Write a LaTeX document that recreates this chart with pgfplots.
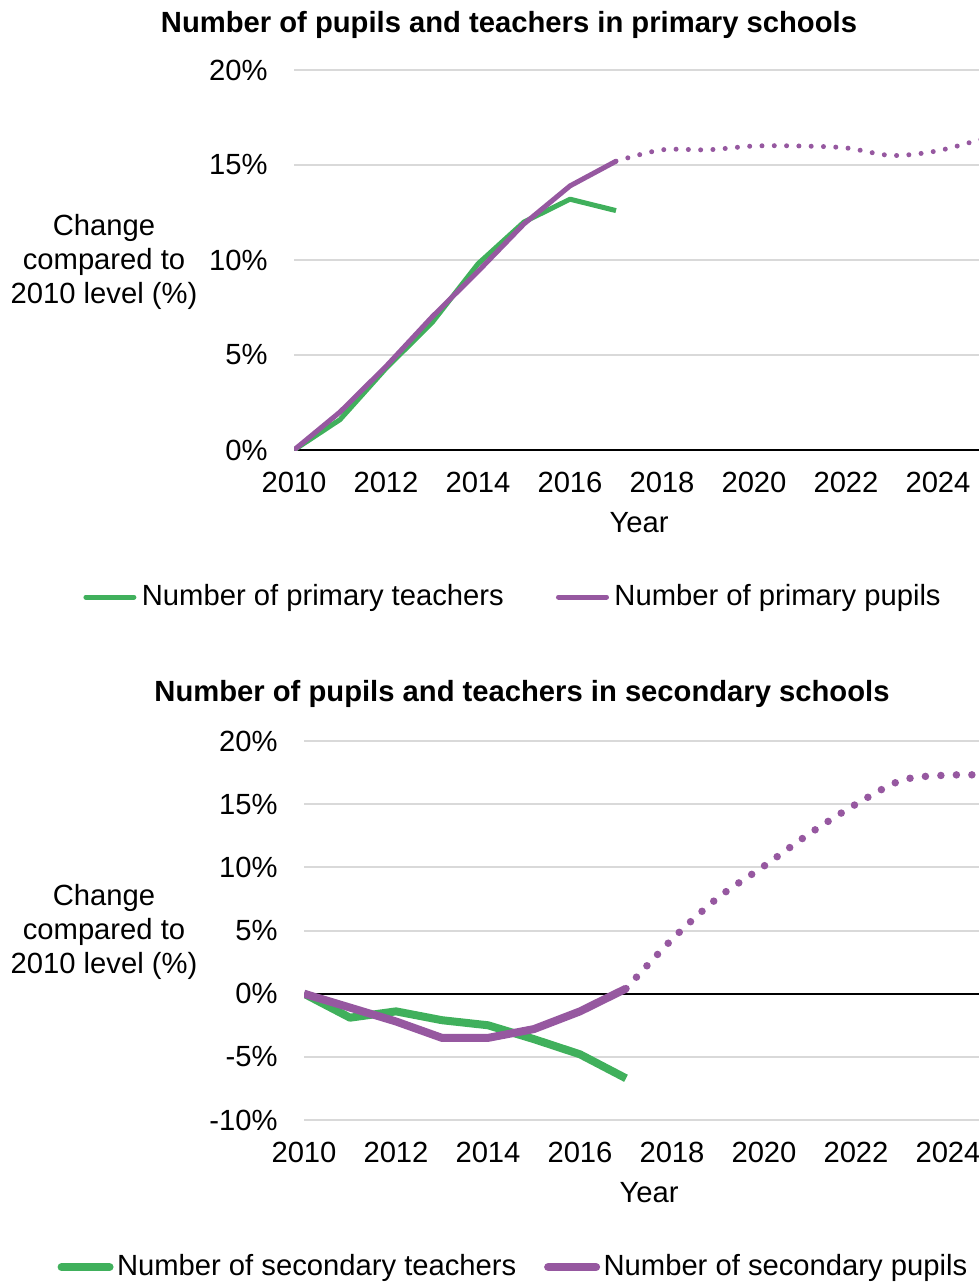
\documentclass[border=0pt]{standalone}
\usepackage{pgfplots}
\pgfplotsset{compat=1.18}
\usepackage{fontspec}
\setmainfont{Liberation Sans}
\definecolor{tgreen}{RGB}{64,176,92}
\definecolor{tpurple}{RGB}{150,88,160}
\definecolor{gridgray}{RGB}{217,217,217}
\newcommand\fs{\fontsize{14.6pt}{17pt}\selectfont}
\pgfplotsset{
  common/.style={
    scale only axis, width=345pt, xmin=2010, xmax=2025,
    axis line style={draw=none}, tick style={draw=none}, major tick length=0pt,
    xtick={2010,2012,...,2024},
    xticklabels={2010,2012,2014,2016,2018,2020,2022,2024},
    ymajorgrids, grid style={gridgray, line width=1pt},
    tick label style={font=\fs},
    yticklabel style={anchor=east, inner sep=0pt, xshift=-13pt},
    xticklabel style={anchor=north, inner sep=0pt, yshift=-11pt},
    xlabel={Year},
    xlabel style={at={(axis description cs:0.5,0)}, anchor=base, inner sep=0pt, yshift=-41pt, font=\fs},
    extra y ticks={0}, extra y tick labels={},
    extra y tick style={grid=major, major grid style={black, line width=1pt}},
    legend columns=2,
    legend style={draw=none, fill=none, anchor=center, font=\fs, inner sep=0pt,
      nodes={inner sep=0pt}, cells={anchor=west}},
    legend image code/.code={\draw[##1, line cap=round] (0pt,0pt) -- (24pt,0pt);},
  }
}
\begin{document}
\fs
\begin{tikzpicture}[font=\fs]
% ---------- top chart ----------
\begin{axis}[common, at={(147pt,-225pt)}, anchor=south west, height=190pt,
  ymin=0, ymax=20, ytick={0,5,10,15,20},
  yticklabels={0\%,5\%,10\%,15\%,20\%},
  legend style={at={(axis description cs:0.316,-0.387)},
    /tikz/every odd column/.append style={column sep=2.75pt},
    /tikz/every even column/.append style={column sep=26.1pt}},
]
\addplot[tgreen, line width=2.5pt, line join=round] coordinates {
 (2010,0)(2011,1.6)(2012,4.3)(2013,6.7)(2014,9.8)(2015,12.0)(2016,13.2)(2017,12.6)};
\addlegendentry{Number of primary teachers}
\addplot[tpurple, line width=2.5pt, line join=round] coordinates {
 (2010,0)(2011,2.0)(2012,4.4)(2013,7.0)(2014,9.4)(2015,11.9)(2016,13.9)(2017,15.2)};
\addlegendentry{Number of primary pupils}
\addplot[tpurple, line width=2.5pt, line cap=round, dash pattern=on 0pt off 6.15pt, smooth, forget plot] coordinates {
 (2017,15.2)(2018,15.8)(2019,15.8)(2020,16.0)(2021,16.0)(2022,15.9)(2023,15.5)(2024,15.75)(2025,16.4)};
\end{axis}
\node[anchor=base, font=\bfseries\fs] at (254.5pt,-16.25pt) {Number of pupils and teachers in primary schools};
\node[align=center, anchor=center] at (52pt,-131pt) {Change\\compared to\\2010 level (\%)};
% ---------- bottom chart ----------
\begin{axis}[common, at={(152pt,-560pt)}, anchor=south west, height=189.5pt,
  ymin=-10, ymax=20, ytick={-10,-5,0,5,10,15,20},
  yticklabels={-10\%,-5\%,0\%,5\%,10\%,15\%,20\%},
  legend style={at={(axis description cs:0.302,-0.388)},
    /tikz/every odd column/.append style={column sep=1.75pt},
    /tikz/every even column/.append style={column sep=13.9pt}},
]
\addplot[tgreen, line width=4pt, line join=round] coordinates {
 (2010,0)(2011,-1.9)(2012,-1.4)(2013,-2.1)(2014,-2.5)(2015,-3.6)(2016,-4.8)(2017,-6.7)};
\addlegendentry{Number of secondary teachers}
\addplot[tpurple, line width=4pt, line join=round] coordinates {
 (2010,0)(2011,-1.1)(2012,-2.2)(2013,-3.5)(2014,-3.5)(2015,-2.8)(2016,-1.4)(2017,0.4)};
\addlegendentry{Number of secondary pupils}
\addplot[tpurple, line width=3.75pt, line cap=round, dash pattern=on 0pt off 7.75pt, smooth, forget plot] coordinates {
 (2017,0.4)(2018,4.3)(2019,7.6)(2020,10.1)(2021,12.7)(2022,15.0)(2023,16.9)(2024,17.3)(2025,17.3)};
\end{axis}
\node[anchor=base, font=\bfseries\fs] at (261pt,-350.75pt) {Number of pupils and teachers in secondary schools};
\node[align=center, anchor=center] at (52pt,-466pt) {Change\\compared to\\2010 level (\%)};
\pgfresetboundingbox
\useasboundingbox (0pt,0pt) rectangle (489.5pt,-642pt);
\end{tikzpicture}
\end{document}
